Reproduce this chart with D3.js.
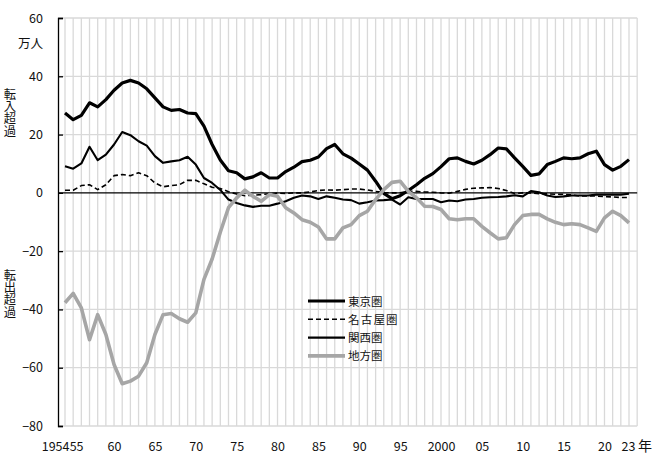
<!DOCTYPE html>
<html><head><meta charset="utf-8">
<script src="https://cdn.jsdelivr.net/npm/d3@7"></script>
<style>
body{margin:0;background:#fff}
text{font-family:"Noto Sans CJK JP","Noto Sans",sans-serif;fill:#111}
</style>
</head><body>
<svg id="c" width="655" height="457"></svg>
<script>
const years = [1954,1955,1956,1957,1958,1959,1960,1961,1962,1963,1964,1965,1966,1967,1968,1969,
1970,1971,1972,1973,1974,1975,1976,1977,1978,1979,1980,1981,1982,1983,1984,1985,1986,1987,1988,1989,
1990,1991,1992,1993,1994,1995,1996,1997,1998,1999,2000,2001,2002,2003,2004,2005,2006,2007,2008,2009,
2010,2011,2012,2013,2014,2015,2016,2017,2018,2019,2020,2021,2022,2023];

const tokyo = [27.4,25.1,26.6,30.9,29.5,32.0,35.2,37.7,38.6,37.7,35.7,32.6,29.5,28.3,28.6,27.4,
27.2,22.9,16.6,11.3,7.6,6.9,4.8,5.5,6.9,5.1,5.1,7.3,8.8,10.7,11.2,12.3,15.2,16.6,13.4,11.9,
9.9,7.8,4.0,-0.2,-2.0,-1.0,0.8,2.8,5.0,6.6,9.0,11.7,12.0,10.8,9.9,11.2,13.1,15.4,15.1,12.0,
9.1,6.0,6.5,9.7,10.8,12.0,11.7,12.0,13.4,14.3,9.7,7.8,9.1,11.4];

const nagoya = [0.9,0.9,2.5,2.8,1.1,2.8,5.9,6.3,5.9,6.9,5.9,3.4,2.1,2.5,2.8,4.3,
4.3,3.1,1.9,1.5,0.4,-0.4,-1.0,-0.8,-0.6,-0.3,-0.1,-0.2,0,0,0.3,0.8,1.0,0.9,1.1,1.3,
1.3,1.0,0.5,0.1,0,0,0.5,0.5,0.3,0.2,0,-0.1,0.5,1.2,1.6,1.7,1.8,1.5,0.8,-0.2,
0,0,-0.3,-0.3,-0.5,-0.5,-0.7,-1.1,-1.1,-1.1,-1.3,-1.4,-1.6,-1.6];

const kansai = [9.1,8.3,10.1,15.8,11.2,13.1,16.6,20.9,19.8,17.7,16.2,12.6,10.3,10.8,11.2,12.4,
9.7,5.1,3.4,1.0,-2.3,-3.5,-4.3,-4.8,-4.4,-4.4,-3.7,-2.9,-1.7,-0.9,-1.2,-2.1,-1.2,-1.7,-2.3,-2.5,
-3.7,-3.2,-2.6,-2.5,-2.3,-4.0,-1.5,-2.1,-2.1,-2.1,-3.2,-2.6,-2.9,-2.3,-2.1,-1.7,-1.5,-1.4,-1.2,-0.8,
-1.2,0.6,0.2,-0.9,-1.4,-1.2,-0.9,-0.9,-0.9,-0.6,-0.6,-0.6,-0.6,-0.3];

const chiho = [-37.7,-34.5,-39.5,-50.4,-41.8,-48.6,-58.9,-65.5,-64.6,-62.9,-58.3,-48.6,-41.8,-41.4,-43.2,-44.4,
-41.2,-29.7,-22.7,-13.5,-5.1,-1.7,0.9,-1.2,-2.9,-0.6,-1.2,-5.1,-6.9,-9.2,-10.1,-11.7,-15.8,-15.8,-12.0,-10.9,
-7.8,-6.3,-2.3,1.1,3.6,4.0,0.5,-1.7,-4.6,-4.7,-5.7,-8.9,-9.2,-8.9,-8.9,-11.5,-13.7,-15.8,-15.4,-10.9,
-7.8,-7.4,-7.4,-8.9,-10.1,-10.9,-10.6,-10.9,-12.0,-13.2,-8.6,-6.3,-7.8,-10.3];

const seriesNames = ["東京圏","名古屋圏","関西圏","地方圏"];
const yTicks = [-80,-60,-40,-20,0,20,40,60];
const xTickYears = [1954,1955,1960,1965,1970,1975,1980,1985,1990,1995,2000,2005,2010,2015,2020,2023];
const xTickLabels = ["1954","55","60","65","70","75","80","85","90","95","2000","05","10","15","20","23"];

const svg = d3.select("#c");
const x = d3.scaleLinear().domain([1954,2023]).range([65,629]);
const y = d3.scaleLinear().domain([-80,60]).range([426,18]);
const left = 58, right = x(2024);

// vertical grid per year
const gridYears = d3.range(years[0], years[years.length-1] + 2);
svg.append("g").selectAll("line").data(gridYears).join("line")
  .attr("x1", d => x(d)).attr("x2", d => x(d))
  .attr("y1", y(60)).attr("y2", y(-80))
  .attr("stroke", "#d9d9d9").attr("stroke-width", 1.3);

// horizontal grid
svg.append("g").selectAll("line").data(yTicks.filter(d => d !== 0)).join("line")
  .attr("x1", left).attr("x2", right)
  .attr("y1", d => y(d)).attr("y2", d => y(d))
  .attr("stroke", "#d9d9d9").attr("stroke-width", 1.3);

// zero line
svg.append("line").attr("x1", left).attr("x2", right)
  .attr("y1", y(0)).attr("y2", y(0)).attr("stroke", "#000").attr("stroke-width", 1.2);

// y axis
const yAxis = svg.append("g").attr("transform", `translate(${left},0)`)
  .call(d3.axisLeft(y).tickValues(yTicks).tickSize(-5).tickPadding(15).tickFormat(d3.format("d")));
yAxis.select(".domain").attr("stroke", "#000").attr("stroke-width", 1.3);
yAxis.selectAll(".tick line").attr("stroke", "#000").attr("stroke-width", 1.3);
yAxis.selectAll("text").style("font-size", "12.5px").attr("fill", "#111");

// x axis labels
const xAxis = svg.append("g").attr("transform", `translate(0,${y(-80)})`)
  .call(d3.axisBottom(x).tickValues(xTickYears).tickSize(0).tickPadding(16)
    .tickFormat((d, i) => xTickLabels[i]));
xAxis.select(".domain").remove();
xAxis.selectAll("text").style("font-size", "12.5px").attr("fill", "#111");
xAxis.selectAll("text").filter((d) => d === 1954).attr("text-anchor", "end").attr("dx", 4);
xAxis.selectAll("text").filter((d) => d === 1955).attr("text-anchor", "start").attr("dx", -4);
xAxis.selectAll("text").filter((d) => d === 2023).attr("dx", -1);

svg.append("text").attr("x", x(2023) + 9).attr("y", 451).style("font-size", "14px").text("年");

// y title
svg.append("text").attr("x", 43).attr("y", 48).attr("text-anchor", "end")
  .style("font-size", "12.5px").text("万人");
const vLabel = (str, y0) => {
  svg.append("text").attr("x", 10).attr("y", y0)
    .style("font-size", "12.3px")
    .style("writing-mode", "vertical-rl")
    .style("text-orientation", "upright")
    .text(str);
};
vLabel("転入超過", 88);
vLabel("転出超過", 269);

// series
const styles = [
  {data: tokyo, color: "#000", width: 3.2, dash: null},
  {data: nagoya, color: "#000", width: 1.6, dash: "5,3"},
  {data: kansai, color: "#000", width: 2.1, dash: null},
  {data: chiho, color: "#a6a6a6", width: 3.6, dash: null}
];
const line = d3.line().x((d, i) => x(years[i])).y(d => y(d));
styles.forEach(s => {
  svg.append("path").datum(s.data).attr("d", line)
    .attr("fill", "none").attr("stroke", s.color).attr("stroke-width", s.width)
    .attr("stroke-linejoin", "round")
    .attr("stroke-dasharray", s.dash);
});

// legend
const lg = svg.append("g");
seriesNames.forEach((n, i) => {
  const yy = 301 + i * 18.3;
  const s = styles[i];
  lg.append("line").attr("x1", 308).attr("x2", 345).attr("y1", yy).attr("y2", yy)
    .attr("stroke", s.color).attr("stroke-width", s.width).attr("stroke-dasharray", s.dash);
  lg.append("text").attr("x", 348).attr("y", yy + 4.5).style("font-size", "11.5px")
    .style("letter-spacing", n.length === 4 ? "1.2px" : "0px").text(n);
});
</script>
</body></html>
